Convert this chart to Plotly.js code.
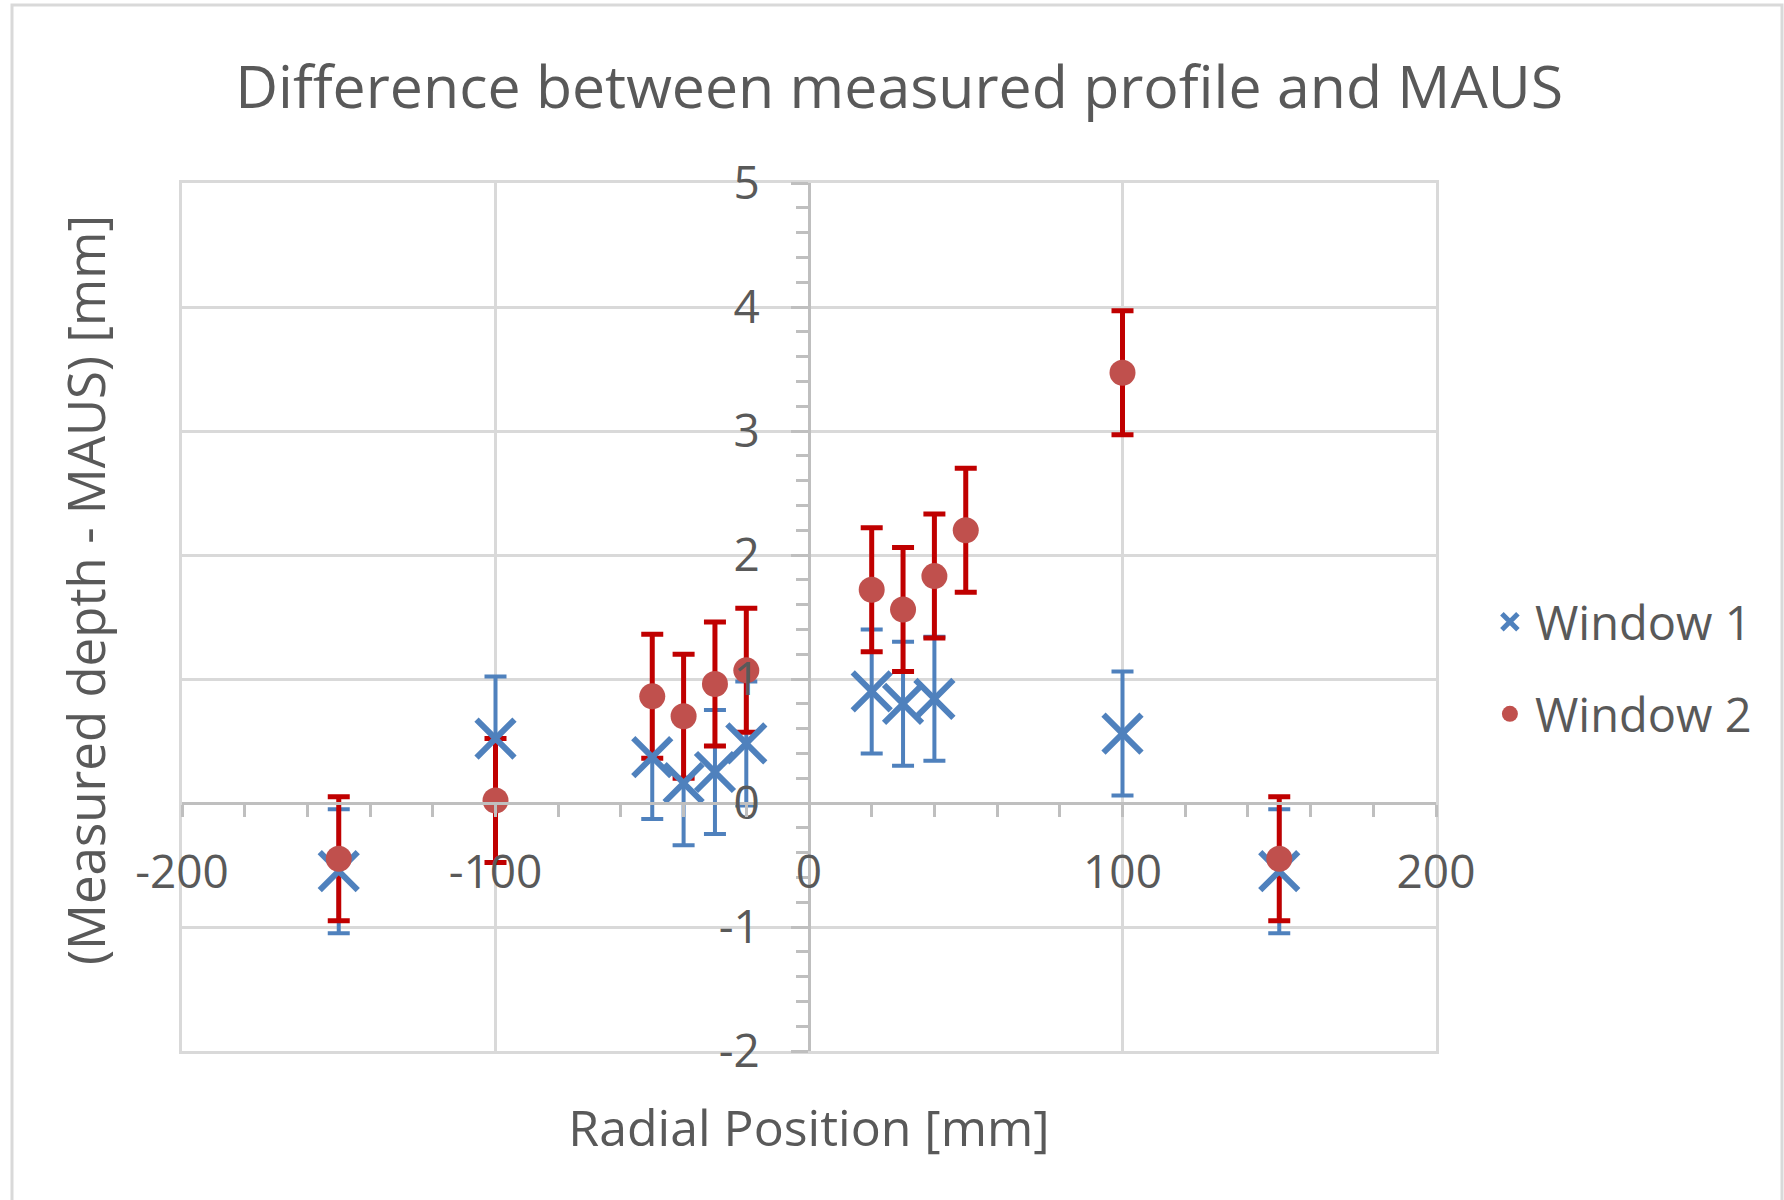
<!DOCTYPE html>
<html>
<head>
<meta charset="utf-8">
<script src="https://cdn.plot.ly/plotly-3.0.1.min.js"></script>
<style>html,body{margin:0;padding:0;background:#fff;}#chart{width:1784px;height:1200px;}</style>
</head>
<body>
<div id="chart"></div>
<script>
// ---- data ----
const window1Position = [-150, -100, -50, -40, -30, -20, 20, 30, 40, 100, 150];
const window1Diff     = [-0.55, 0.52, 0.37, 0.16, 0.25, 0.48, 0.90, 0.80, 0.84, 0.56, -0.55];
const window1Error    = [0.5, 0.5, 0.5, 0.5, 0.5, 0.5, 0.5, 0.5, 0.5, 0.5, 0.5];

const window2Position = [-150, -100, -50, -40, -30, -20, 20, 30, 40, 50, 100, 150];
const window2Diff     = [-0.45, 0.02, 0.86, 0.70, 0.96, 1.07, 1.72, 1.56, 1.83, 2.20, 3.47, -0.45];
const window2Error    = [0.5, 0.5, 0.5, 0.5, 0.5, 0.5, 0.5, 0.5, 0.5, 0.5, 0.5, 0.5];

const seriesNames = ["Window 1", "Window 2"];
const chartTitle = "Difference between measured profile and MAUS";
const xTitle = "Radial Position [mm]";
const yTitle = "(Measured depth - MAUS) [mm]";
const xRange = [-200, 200];
const yRange = [-2, 5];
const xTickVals = [-200, -100, 0, 100, 200];
const xTickText = ["-200", "-100", "0", "100", "200"];
const yTickVals = [-2, -1, 0, 1, 2, 3, 4, 5];
const yTickText = ["-2", "-1", "0", "1", "2", "3", "4", "5"];

// ---- styling ----
const FONT = "Open Sans, Lato, sans-serif";
const TXT = "#595959";
const GRID = "#d9d9d9";
const AXIS = "#bfbfbf";
const BLUE = "#4F81BD";
const RED_MARK = "#C0504D";
const RED_ERR = "#C00000";

const traces = [
  { // blue error bars
    type: "scatter", mode: "markers", x: window1Position, y: window1Diff,
    marker: {size: 1, opacity: 0}, showlegend: false, hoverinfo: "skip",
    error_y: {type: "data", array: window1Error, visible: true, color: BLUE, thickness: 4, width: 11}
  },
  { // red error bars
    type: "scatter", mode: "markers", x: window2Position, y: window2Diff,
    marker: {size: 1, opacity: 0}, showlegend: false, hoverinfo: "skip",
    error_y: {type: "data", array: window2Error, visible: true, color: RED_ERR, thickness: 5, width: 11}
  },
  {
    type: "scatter", mode: "markers", name: seriesNames[0], legendgroup: "g1",
    x: window1Position, y: window1Diff,
    marker: {symbol: "x-thin-open", size: 38, color: BLUE, line: {color: BLUE, width: 6}}
  },
  {
    type: "scatter", mode: "markers", name: seriesNames[1], legendgroup: "g2",
    x: window2Position, y: window2Diff,
    marker: {symbol: "circle", size: 26, color: RED_MARK, line: {width: 0}}
  },
  { type: "scatter", mode: "markers", x: [], y: [], xaxis: "x2", yaxis: "y", showlegend: false, hoverinfo: "skip" },
  { type: "scatter", mode: "markers", x: [], y: [], xaxis: "x", yaxis: "y2", showlegend: false, hoverinfo: "skip" }
];

const zeroFracY = (0 - yRange[0]) / (yRange[1] - yRange[0]);
const zeroFracX = (0 - xRange[0]) / (xRange[1] - xRange[0]);

const layout = {
  width: 1784, height: 1200,
  paper_bgcolor: "#ffffff", plot_bgcolor: "#ffffff",
  margin: {l: 182, r: 348, t: 183, b: 149, pad: 0},
  font: {family: FONT, color: TXT},
  title: {text: chartTitle, font: {family: FONT, size: 59, color: TXT},
          xref: "container", x: 0.504, xanchor: "center", yref: "container", y: 0.927, yanchor: "middle"},
  xaxis: {
    range: xRange, domain: [0, 1], dtick: 100, tick0: 0,
    showgrid: true, gridcolor: GRID, gridwidth: 3,
    showline: true, mirror: true, linecolor: GRID, linewidth: 3,
    zeroline: false, showticklabels: false, ticks: "",
    title: {text: xTitle, font: {family: FONT, size: 50, color: TXT}, standoff: 58}
  },
  yaxis: {
    range: yRange, domain: [0, 1], dtick: 1, tick0: 0,
    showgrid: true, gridcolor: GRID, gridwidth: 3,
    showline: true, mirror: true, linecolor: GRID, linewidth: 3,
    zeroline: false, showticklabels: false, ticks: ""
  },
  xaxis2: {
    overlaying: "x", anchor: "free", position: zeroFracY, side: "bottom",
    range: xRange, tickmode: "array", tickvals: xTickVals, ticktext: xTickText,
    showgrid: false, zeroline: false,
    showline: true, linecolor: AXIS, linewidth: 3,
    ticks: "outside", ticklen: 12, tickwidth: 3, tickcolor: AXIS,
    minor: {tickmode: "linear", dtick: 20, tick0: 0, ticks: "outside", ticklen: 12, tickwidth: 3, tickcolor: AXIS, showgrid: false},
    showticklabels: true, tickfont: {family: FONT, size: 46, color: TXT}, ticklabelstandoff: 16
  },
  yaxis2: {
    overlaying: "y", anchor: "free", position: zeroFracX, side: "left",
    range: yRange, tickmode: "array", tickvals: yTickVals, ticktext: yTickText,
    showgrid: false, zeroline: false,
    showline: true, linecolor: AXIS, linewidth: 3,
    ticks: "outside", ticklen: 17, tickwidth: 3, tickcolor: AXIS,
    minor: {tickmode: "linear", dtick: 0.2, tick0: 0, ticks: "outside", ticklen: 12, tickwidth: 3, tickcolor: AXIS, showgrid: false},
    showticklabels: true, tickfont: {family: FONT, size: 46, color: TXT}, ticklabelstandoff: 22
  },
  annotations: [
    {text: yTitle, textangle: -90, xref: "paper", yref: "paper",
     x: (85 - 182) / 1254, xanchor: "center", y: (1051 - 590) / 868, yanchor: "middle",
     showarrow: false, font: {family: FONT, size: 51, color: TXT}}
  ],
  showlegend: true,
  legend: {
    x: 1.039, xanchor: "left", y: 0.441, yanchor: "middle",
    font: {family: FONT, size: 47, color: TXT},
    traceorder: "grouped", tracegroupgap: 28,
    bgcolor: "rgba(0,0,0,0)", borderwidth: 0, itemwidth: 40
  },
  shapes: [
    {type: "rect", xref: "paper", yref: "paper",
     x0: (12 - 182) / 1254, x1: (1782 - 182) / 1254, y0: -0.3, y1: (1051 - 5) / 868,
     line: {color: GRID, width: 3}, fillcolor: "rgba(0,0,0,0)", layer: "below"}
  ],
  hovermode: false
};

Plotly.newPlot("chart", traces, layout, {displayModeBar: false, staticPlot: true});
</script>
</body>
</html>
